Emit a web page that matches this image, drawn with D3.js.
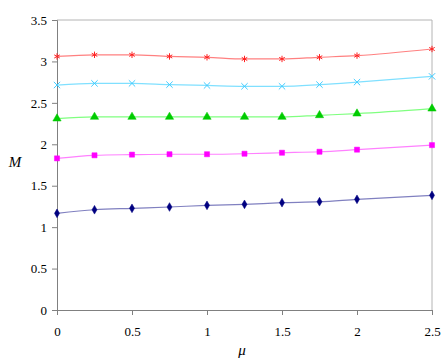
<!DOCTYPE html>
<html>
<head>
<meta charset="utf-8">
<script src="https://cdn.jsdelivr.net/npm/d3@7"></script>
<style>
  body { margin: 0; background: #fff; }
  svg text { font-family: "Liberation Serif", "DejaVu Serif", "Times New Roman", serif; }
</style>
</head>
<body>
<div class="chart"></div>
<script>
// mu values (x) and M for each curve
var muVals = [0, 0.25, 0.5, 0.75, 1, 1.25, 1.5, 1.75, 2, 2.5];
var redVals = [3.06, 3.08, 3.08, 3.06, 3.05, 3.03, 3.03, 3.05, 3.07, 3.15];
var cyanVals = [2.715, 2.735, 2.735, 2.72, 2.71, 2.70, 2.70, 2.72, 2.75, 2.82];
var greenVals = [2.31, 2.33, 2.33, 2.33, 2.33, 2.33, 2.33, 2.35, 2.37, 2.43];
var magentaVals = [1.83, 1.867, 1.875, 1.88, 1.88, 1.886, 1.898, 1.91, 1.935, 1.99];
var navyVals = [1.167, 1.21, 1.227, 1.243, 1.263, 1.275, 1.295, 1.307, 1.336, 1.384];
var xTicks = [0, 0.5, 1, 1.5, 2, 2.5];
var yTicks = [0, 0.5, 1, 1.5, 2, 2.5, 3, 3.5];

var series = [
  {vals: redVals, marker: "#ff2020", line: "#ff8080", shape: "star"},
  {vals: cyanVals, marker: "#40ccff", line: "#80e0ff", shape: "cross"},
  {vals: greenVals, marker: "#00cc00", line: "#80ff80", shape: "triangle"},
  {vals: magentaVals, marker: "#ff00ff", line: "#ff80ff", shape: "square"},
  {vals: navyVals, marker: "#000080", line: "#8080c0", shape: "diamond"}
];

var serif = "'Liberation Serif', 'DejaVu Serif', 'Times New Roman', serif";

var width = 445, height = 359;
var margin = {top: 20, right: 13, bottom: 49, left: 57};
var w = width - margin.left - margin.right,
    h = height - margin.top - margin.bottom;

var svg = d3.select(".chart").append("svg")
    .attr("width", width)
    .attr("height", height);

var g = svg.append("g")
    .attr("transform", "translate(" + margin.left + "," + margin.top + ")");

var x = d3.scaleLinear().domain([0, 2.5]).range([0, w]);
var y = d3.scaleLinear().domain([0, 3.5]).range([h, 0]);

// frame: top and right light gray
g.append("line").attr("x1", 0).attr("x2", w).attr("y1", 0).attr("y2", 0)
    .style("stroke", "#b4b4b4").style("stroke-width", 1);
g.append("line").attr("x1", w).attr("x2", w).attr("y1", 0).attr("y2", h)
    .style("stroke", "#b4b4b4").style("stroke-width", 1);

var xAxis = g.append("g")
    .attr("transform", "translate(0," + h + ")")
    .call(d3.axisBottom(x).tickValues(xTicks).tickSize(5).tickPadding(12)
        .tickFormat(function(d) { return d; }));

var yAxis = g.append("g")
    .call(d3.axisLeft(y).tickValues(yTicks).tickSize(5).tickPadding(5)
        .tickFormat(function(d) { return d; }));

[xAxis, yAxis].forEach(function(a) {
    a.attr("font-family", serif).attr("font-size", 13);
    a.select(".domain").style("stroke", "#808080");
    a.selectAll(".tick line").style("stroke", "#808080");
    a.selectAll("text")
        .style("font-family", serif)
        .style("font-size", "13px")
        .style("fill", "#000");
});

var line = d3.line()
    .x(function(d, i) { return x(muVals[i]); })
    .y(function(d) { return y(d); })
    .curve(d3.curveMonotoneX);

var symbols = {
    star: d3.symbolAsterisk,
    cross: d3.symbolTimes,
    triangle: d3.symbolTriangle,
    square: d3.symbolSquare,
    diamond: d3.symbolDiamond
};
var sizes = {star: 28, cross: 28, triangle: 30, square: 26, diamond: 22};

series.forEach(function(s) {
    g.append("path")
        .datum(s.vals)
        .attr("d", line)
        .style("fill", "none")
        .style("stroke", s.line)
        .style("stroke-width", 1.2);

    var sym = d3.symbol().type(symbols[s.shape]).size(sizes[s.shape]);
    var stroked = (s.shape == "star" || s.shape == "cross");

    g.selectAll(null)
        .data(s.vals)
        .enter().append("path")
        .attr("transform", function(d, i) {
            return "translate(" + x(muVals[i]) + "," + y(d) + ")"; })
        .attr("d", sym)
        .style("fill", stroked ? "none" : s.marker)
        .style("stroke", s.marker)
        .style("stroke-width", stroked ? 1 : 0.5);
});

svg.append("text")
    .attr("x", 15)
    .attr("y", 167)
    .attr("text-anchor", "middle")
    .style("font-family", serif)
    .style("font-style", "italic")
    .style("font-size", "15px")
    .text("M");

svg.append("text")
    .attr("x", 242)
    .attr("y", 355)
    .attr("text-anchor", "middle")
    .style("font-family", serif)
    .style("font-style", "italic")
    .style("font-size", "15px")
    .text("μ");
</script>
</body>
</html>
